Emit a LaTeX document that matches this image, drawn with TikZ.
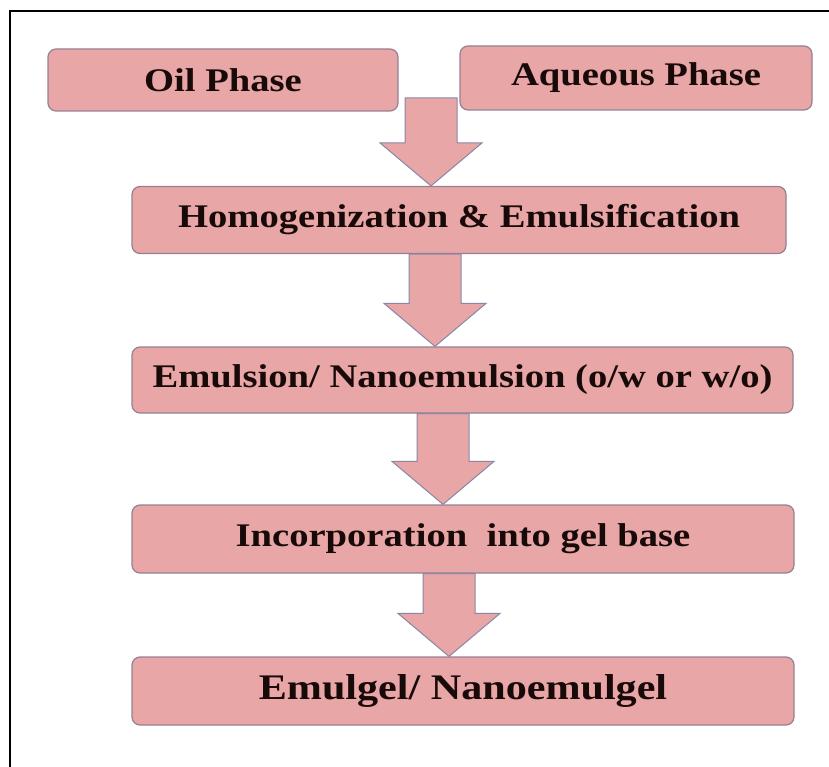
\documentclass[tikz,border=0pt]{standalone}
\usepackage{fontspec}
\setmainfont{Liberation Serif}[FakeStretch=1.17]
\usetikzlibrary{calc}
\definecolor{boxpink}{RGB}{232,166,166}
\definecolor{boxedge}{RGB}{150,128,145}
\definecolor{arrowedge}{RGB}{135,135,165}
\definecolor{inkdark}{RGB}{25,10,10}
% block arrow from top of shaft (#1) down to tip (#2)
\newcommand{\blockdown}[2]{%
  \filldraw[arrowbody] ($(#1)+(-26,0)$) -- ($(#1)+(26,0)$) -- ($(#2)+(26,-43)$)
    -- ($(#2)+(51,-43)$) -- (#2) -- ($(#2)+(-51,-43)$) -- ($(#2)+(-26,-43)$) -- cycle;}

\begin{document}
\begin{tikzpicture}[x=1pt,y=-1pt,
    stage/.style={draw=boxedge,line width=1.2pt,fill=boxpink,rounded corners=8pt,
      text=inkdark,font=\fontsize{33}{36}\selectfont\bfseries,inner sep=0pt},
    arrowbody/.style={draw=arrowedge,line width=1pt,fill=boxpink,line join=miter}]
    \useasboundingbox (0,0) rectangle (829,767);

    %/ Frame
    \draw[line width=2pt] (10,790) -- (10,11) -- (850,11);

    %/ Boxes
    \node[stage,minimum width=350pt,minimum height=62pt] (oil) at (223,80) {Oil Phase};
    \node[stage,minimum width=352pt,minimum height=64pt] (aqueous) at (636,78) {Aqueous Phase};
    \node[stage,minimum width=654pt,minimum height=67pt] (homog) at (459,220) {Homogenization \& Emulsification};
    \node[stage,minimum width=661pt,minimum height=66pt] (emul) at (462.5,380) {Emulsion/ Nanoemulsion (o/w or w/o)};
    \node[stage,minimum width=662pt,minimum height=68pt] (incorp) at (463,539) {Incorporation \ into gel base};
    \node[stage,minimum width=662pt,minimum height=68pt,font=\fontsize{36}{40}\selectfont\bfseries] (gel) at (463,691) {Emulgel/ Nanoemulgel};

    %/ Arrows
    \coordinate (a1top) at (431,98);
    \coordinate (a1tip) at (homog.north -| a1top);
    \path (homog.south) ++(-24,0) coordinate (a2top);
    \coordinate (a2tip) at (emul.north -| a2top);
    \path (emul.south) ++(-19.5,0) coordinate (a3top);
    \coordinate (a3tip) at (incorp.north -| a3top);
    \path (incorp.south) ++(-14,0) coordinate (a4top);
    \coordinate (a4tip) at (gel.north -| a4top);
    \blockdown{a1top}{a1tip}
    \blockdown{a2top}{a2tip}
    \blockdown{a3top}{a3tip}
    \blockdown{a4top}{a4tip}
\end{tikzpicture}
\end{document}
